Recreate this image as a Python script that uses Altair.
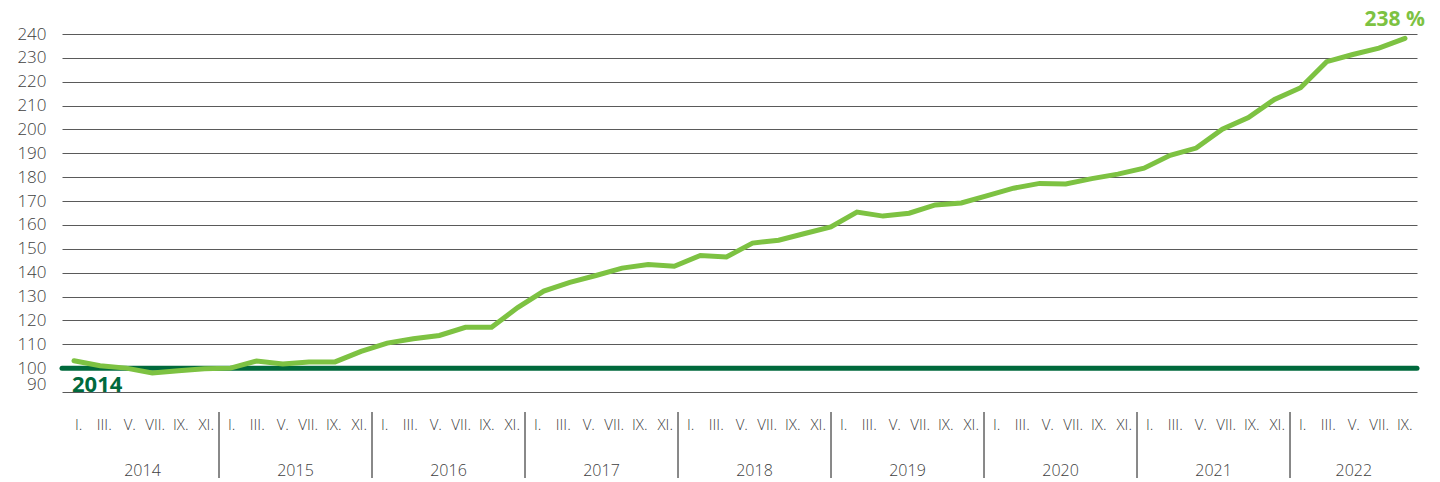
import altair as alt
import pandas as pd

# ---- data ----
values = [103.1, 101.0, 100.0, 98.0, 98.9, 99.7,
          100.0, 103.0, 101.7, 102.6, 102.6, 107.0,
          110.5, 112.3, 113.7, 117.1, 117.1, 125.4,
          132.3, 135.9, 138.8, 141.9, 143.4, 142.7,
          147.2, 146.6, 152.4, 153.6, 156.4, 159.2,
          165.4, 163.7, 164.9, 168.4, 169.2, 172.3,
          175.4, 177.4, 177.2, 179.4, 181.3, 183.8,
          189.2, 192.2, 200.1, 205.0, 212.6, 217.5,
          228.4, 231.4, 234.1, 238.2]
years = ["2014", "2015", "2016", "2017", "2018", "2019", "2020", "2021", "2022"]
months = ["I.", "III.", "V.", "VII.", "IX.", "XI."]
months_per_year = [6, 6, 6, 6, 6, 6, 6, 6, 5]
y_ticks = list(range(90, 241, 10))
baseline_value = [100]
baseline_label = ["2014"]
end_label = ["238 %"]

LIGHT = "#7DC242"
DARK = "#00693C"
FONT = "Open Sans"

# ---- tables built from the lists ----
line_df = pd.DataFrame({"k": list(range(len(values))), "v": values})

lab_rows, year_rows, sep_rows = [], [], []
j = 0
for yi, (yr, cnt) in enumerate(zip(years, months_per_year)):
    start = j
    for m in months[:cnt]:
        lab_rows.append({"j": j, "month": m, "year": yr})
        j += 1
    year_rows.append({"j": (start + j - 1) / 2, "year": yr})
    if yi > 0:
        sep_rows.append({"j": start - 0.5})
lab_df = pd.DataFrame(lab_rows)
year_df = pd.DataFrame(year_rows)
sep_df = pd.DataFrame(sep_rows)

base_df = pd.DataFrame({"k": [0], "v": baseline_value, "t": baseline_label})
end_df = pd.DataFrame({"k": [len(values) - 1], "v": [values[-1]], "t": end_label})

W, H = 1355, 358

xk = alt.X("k:Q", scale=alt.Scale(domain=[-0.46, len(values) - 1 + 0.46], nice=False, zero=False), axis=None)
y_axis = alt.Axis(values=y_ticks, grid=True, gridColor="#5a5a5a", gridWidth=1,
                  domain=False, ticks=False, labelFontSize=17, labelColor="#404040",
                  labelPadding=16, labelFont=FONT, labelFontWeight=300,
                  labelOverlap=False, tickCount=16,
                  labelOffset={"condition": {"test": "datum.value == 90", "value": -8},
                               "value": 0},
                  title=None)
y_scale = alt.Scale(domain=[90, 240], nice=False, zero=False)
yv = alt.Y("v:Q", scale=y_scale, axis=y_axis)

line = alt.Chart(line_df).mark_line(color=LIGHT, strokeWidth=5, strokeCap="round").encode(x=xk, y=yv)

baseline = alt.Chart(base_df).mark_rule(color=DARK, strokeWidth=5, strokeCap="round").encode(y=yv)

base_text = alt.Chart(base_df).mark_text(align="left", baseline="middle", dx=-2, dy=17,
                                         fontSize=22, fontWeight="bold", color=DARK, font=FONT
                                         ).encode(x=xk, y=yv, text="t:N")

end_text = alt.Chart(end_df).mark_text(align="right", baseline="middle", dx=20, dy=-18,
                                       fontSize=21, fontWeight="bold", color=LIGHT, font=FONT
                                       ).encode(x=xk, y=yv, text="t:N")

xj = alt.X("j:Q", scale=alt.Scale(domain=[-0.657, 52.48], nice=False, zero=False), axis=None)

month_text = alt.Chart(lab_df).mark_text(align="center", baseline="middle", fontSize=15,
                                         color="#404040", font=FONT, fontWeight=300
                                         ).encode(x=xj, y=alt.value(H + 33), text="month:N")
year_text = alt.Chart(year_df).mark_text(align="center", baseline="middle", fontSize=16,
                                         color="#404040", font=FONT, fontWeight=300
                                         ).encode(x=xj, y=alt.value(H + 79), text="year:N")
seps = alt.Chart(sep_df).mark_rule(color="#3a3a3a", strokeWidth=1.2).encode(
    x=xj, y=alt.value(H + 20), y2=alt.value(H + 86))

data_layer = alt.layer(baseline, line, base_text, end_text)
label_layer = alt.layer(month_text, year_text, seps)

chart = alt.layer(data_layer, label_layer).resolve_scale(x="independent").properties(
    width=W, height=H,
    autosize=alt.AutoSizeParams(type="none"),
    padding={"left": 54, "top": 26, "right": 15, "bottom": 90},
).configure(font=FONT).configure_view(strokeWidth=0)

chart.save("out.html", embed_options={"renderer": "svg", "actions": False})
